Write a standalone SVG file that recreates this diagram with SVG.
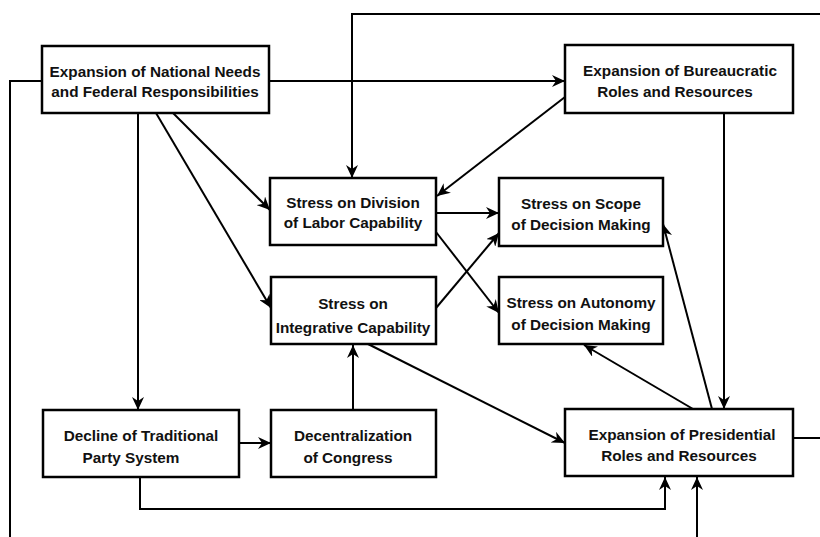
<svg xmlns="http://www.w3.org/2000/svg" width="820" height="537" viewBox="0 0 820 537">
<style>
.box{fill:#fff;stroke:#000;stroke-width:2.5}
.t{font-family:"Liberation Sans",Arial,sans-serif;font-weight:bold;font-size:15.3px;fill:#111;text-anchor:middle}
.c{fill:none;stroke:#000;stroke-width:2}
.a{marker-end:url(#arr)}
</style>
<defs>
<marker id="arr" markerUnits="userSpaceOnUse" markerWidth="14" markerHeight="12" refX="13" refY="6" orient="auto">
<path d="M0,0 L13,6 L0,12 L4,6 z" fill="#000"/>
</marker>
</defs>
<rect width="820" height="537" fill="#fff"/>
<g id="connectors">
<path class="c a" d="M820,14 L352,14 L352,178"/>
<path class="c" d="M793,438 L820,438"/>
<path class="c" d="M42,81 L10,81 L10,537"/>
<path class="c a" d="M697,537 L697,477"/>
<path class="c a" d="M269,81 L565,81"/>
<path class="c a" d="M138,113 L138,410"/>
<path class="c a" d="M156,113 L271,308"/>
<path class="c a" d="M173,113 L270,210"/>
<path class="c a" d="M565,97 L437,196"/>
<path class="c a" d="M436,213 L499,213"/>
<path class="c a" d="M436,232 L499,313"/>
<path class="c a" d="M436,308 L499,233"/>
<path class="c a" d="M368,344 L565,443"/>
<path class="c a" d="M353,410 L353,345"/>
<path class="c a" d="M239,443 L271,443"/>
<path class="c a" d="M140,477 L140,509 L665,509 L665,477"/>
<path class="c a" d="M724,113 L724,409"/>
<path class="c a" d="M712,409 L663,224"/>
<path class="c a" d="M693,409 L584,345"/>
</g>
<g id="n1"><rect class="box" x="42" y="46" width="227" height="67"/>
<text class="t" x="155" y="77">Expansion of National Needs</text>
<text class="t" x="155" y="97">and Federal Responsibilities</text></g>
<g id="n2"><rect class="box" x="565" y="45" width="228" height="68"/>
<text class="t" x="680" y="76">Expansion of Bureaucratic</text>
<text class="t" x="675" y="97">Roles and Resources</text></g>
<g id="n3"><rect class="box" x="270" y="178" width="166" height="67"/>
<text class="t" x="353" y="208">Stress on Division</text>
<text class="t" x="353" y="228">of Labor Capability</text></g>
<g id="n4"><rect class="box" x="499" y="178" width="164" height="68"/>
<text class="t" x="581" y="209">Stress on Scope</text>
<text class="t" x="581" y="230">of Decision Making</text></g>
<g id="n5"><rect class="box" x="271" y="277" width="165" height="67"/>
<text class="t" x="353" y="309">Stress on</text>
<text class="t" x="353" y="333">Integrative Capability</text></g>
<g id="n6"><rect class="box" x="499" y="277" width="164" height="67"/>
<text class="t" x="581" y="308">Stress on Autonomy</text>
<text class="t" x="581" y="330">of Decision Making</text></g>
<g id="n7"><rect class="box" x="43" y="410" width="196" height="67"/>
<text class="t" x="141" y="441">Decline of Traditional</text>
<text class="t" x="131" y="463">Party System</text></g>
<g id="n8"><rect class="box" x="271" y="410" width="165" height="67"/>
<text class="t" x="353" y="441">Decentralization</text>
<text class="t" x="348" y="463">of Congress</text></g>
<g id="n9"><rect class="box" x="565" y="409" width="228" height="67"/>
<text class="t" x="682" y="440">Expansion of Presidential</text>
<text class="t" x="679" y="461">Roles and Resources</text></g>
</svg>
